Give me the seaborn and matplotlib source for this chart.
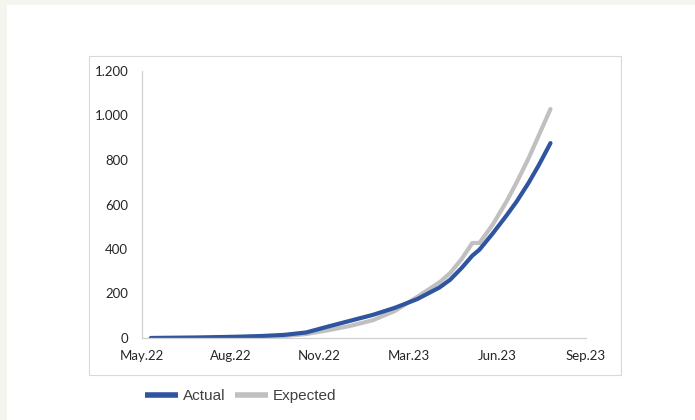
import matplotlib
matplotlib.use("Agg")
import matplotlib.pyplot as plt
from matplotlib.patches import Rectangle
import pandas as pd
import seaborn as sns

# Position along the date axis, in units of label intervals (0 = May.22, 5 = Sep.23)
x_pos = [0.10, 0.35, 0.60, 0.85, 1.10, 1.35, 1.60, 1.85, 2.10, 2.35,
         2.60, 2.85, 3.10, 3.35, 3.47, 3.60, 3.72, 3.80, 3.95, 4.10,
         4.22, 4.35, 4.47, 4.60]
actual = [0, 1, 2, 4, 6, 9, 14, 25, 52, 78,
          104, 136, 175, 227, 262, 315, 370, 397, 470, 548,
          614, 695, 778, 876]
expected = [0, 0.5, 1, 2, 3, 5, 9, 18, 35, 55,
            80, 122, 185, 250, 292, 355, 427, 427, 510, 610,
            700, 805, 912, 1029]
tick_labels = ["May.22", "Aug.22", "Nov.22", "Mar.23", "Jun.23", "Sep.23"]
y_ticks = [0, 200, 400, 600, 800, 1000, 1200]
y_labels = ["0", "200", "400", "600", "800", "1.000", "1.200"]

df = pd.concat([
    pd.DataFrame({"x": x_pos, "value": expected, "series": "Expected"}),
    pd.DataFrame({"x": x_pos, "value": actual, "series": "Actual"}),
])

sns.set_theme(style="white")
plt.rcParams["font.family"] = ["Lato", "DejaVu Sans"]

W, H = 695, 420
fig = plt.figure(figsize=(W / 100, H / 100), dpi=100)
fig.patch.set_facecolor("#f5f5ef")

# white card and the framed chart area
fig.patches.append(Rectangle((7 / W, 0), 1, 1 - 5 / H, transform=fig.transFigure,
                             facecolor="white", edgecolor="none", zorder=-2))
fig.patches.append(Rectangle((89 / W, 1 - 375 / H), (621 - 89) / W, (375 - 56) / H,
                             transform=fig.transFigure, facecolor="none",
                             edgecolor="#d9d9d9", linewidth=0.8, zorder=-1))

ax = fig.add_axes([142 / W, 1 - 338 / H, (586 - 142) / W, (338 - 71) / H])
ax.set_facecolor("none")
ax.set_zorder(2)

palette = {"Actual": "#2f55a0", "Expected": "#c0c0c0"}
sns.lineplot(data=df, x="x", y="value", hue="series", palette=palette,
             hue_order=["Expected", "Actual"], linewidth=3.0, ax=ax,
             legend=False, sort=False, solid_capstyle="round",
             solid_joinstyle="round")

ax.set_xlim(0, 5)
ax.set_ylim(0, 1200)
ax.set_xticks(range(6))
ax.set_xticklabels(tick_labels)
ax.set_yticks(y_ticks)
ax.set_yticklabels(y_labels)
ax.set_xlabel("")
ax.set_ylabel("")
ax.tick_params(axis="both", length=0, labelsize=9.5, colors="#262626")
ax.tick_params(axis="x", pad=9)
ax.tick_params(axis="y", pad=10)
for side in ["top", "right"]:
    ax.spines[side].set_visible(False)
for side in ["left", "bottom"]:
    ax.spines[side].set_color("#d0d0d0")
    ax.spines[side].set_linewidth(0.9)

handles = [plt.Line2D([], [], color=palette["Actual"], linewidth=4, solid_capstyle="butt"),
           plt.Line2D([], [], color=palette["Expected"], linewidth=4, solid_capstyle="butt")]
fig.legend(handles, ["Actual", "Expected"], ncol=2, frameon=False,
           loc="center left", bbox_to_anchor=(131 / W, 1 - 396 / H),
           prop={"family": "Liberation Sans", "size": 11},
           handlelength=2.2, handletextpad=0.3, columnspacing=0.6,
           labelcolor="#404040")

fig.savefig("out.png", dpi=100, facecolor=fig.get_facecolor())
